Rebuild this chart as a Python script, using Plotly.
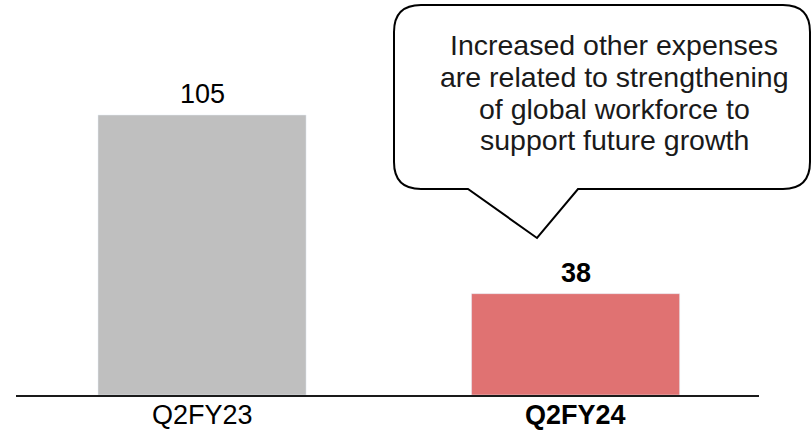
import plotly.graph_objects as go

categories = ["Q2FY23", "Q2FY24"]
values = [105, 38]
value_labels = ["105", "<b>38</b>"]
tick_labels = ["Q2FY23", "<b>Q2FY24</b>"]
bar_colors = ["#BFBFBF", "#E07272"]
callout_lines = ["Increased other expenses", "are related to strengthening",
                 "of global workforce to", "support future growth"]

FONT = "Liberation Sans, Arial"
W, H = 812, 433
L, R, T, B = 16, 53, 10, 38
PW, PH = W - L - R, H - T - B
PX_PER_UNIT = 280 / 105


def px(x):
    return (x - L) / PW


def py(y):
    return (H - B - y) / PH


fig = go.Figure(go.Bar(
    x=[0, 1], y=values, marker_color=bar_colors, width=0.557,
    hoverinfo="skip",
))

for i, (v, lab) in enumerate(zip(values, value_labels)):
    fig.add_annotation(x=i, y=v, xref="x", yref="y", text=lab, showarrow=False,
                       xanchor="center", yanchor="middle", yshift=21,
                       font=dict(size=27, color="#000000", family=FONT))

# category labels under the axis
for i, lab in enumerate(tick_labels):
    fig.add_annotation(x=i, y=py(415), xref="x", yref="paper", text=lab,
                       showarrow=False, xanchor="center", yanchor="middle",
                       font=dict(size=27, color="#000000", family=FONT))

x0, x1, y0, y1, r = 394, 810, 5, 189, 27
tl, tr, tip = 468, 578, (537, 238)
pts = [
    ("M", [(x0 + r, y0)]),
    ("L", [(x1 - r, y0)]),
    ("Q", [(x1, y0), (x1, y0 + r)]),
    ("L", [(x1, y1 - r)]),
    ("Q", [(x1, y1), (x1 - r, y1)]),
    ("L", [(tr, y1)]),
    ("L", [tip]),
    ("L", [(tl, y1)]),
    ("L", [(x0 + r, y1)]),
    ("Q", [(x0, y1), (x0, y1 - r)]),
    ("L", [(x0, y0 + r)]),
    ("Q", [(x0, y0), (x0 + r, y0)]),
]
path = ""
for cmd, ps in pts:
    path += cmd + " " + " ".join(f"{px(a):.5f},{py(b):.5f}" for a, b in ps) + " "
path += "Z"

fig.add_shape(type="path", path=path, xref="paper", yref="paper",
              line=dict(color="#000000", width=2), fillcolor="rgba(255,255,255,1)")

for k, line in enumerate(callout_lines):
    fig.add_annotation(text=line, xref="paper", yref="paper",
                       x=px(614), y=py(45 + 31.8 * k), xanchor="center", yanchor="middle",
                       showarrow=False,
                       font=dict(size=28.5, color="#1A1A1A", family=FONT))

fig.update_layout(
    width=W, height=H,
    margin=dict(l=L, r=R, t=T, b=B, pad=0, autoexpand=False),
    paper_bgcolor="white", plot_bgcolor="white",
    showlegend=False,
    xaxis=dict(range=[-0.498, 1.491], tickvals=[0, 1], ticktext=tick_labels,
               showticklabels=False, automargin=False,
               showgrid=False, zeroline=False, showline=True,
               linecolor="#1A1A1A", linewidth=2, ticks=""),
    yaxis=dict(range=[0, PH / PX_PER_UNIT], visible=False, showgrid=False,
               automargin=False),
)

fig.write_html("out.html", config={"displayModeBar": False},
               post_script="document.body.style.margin='0';")
